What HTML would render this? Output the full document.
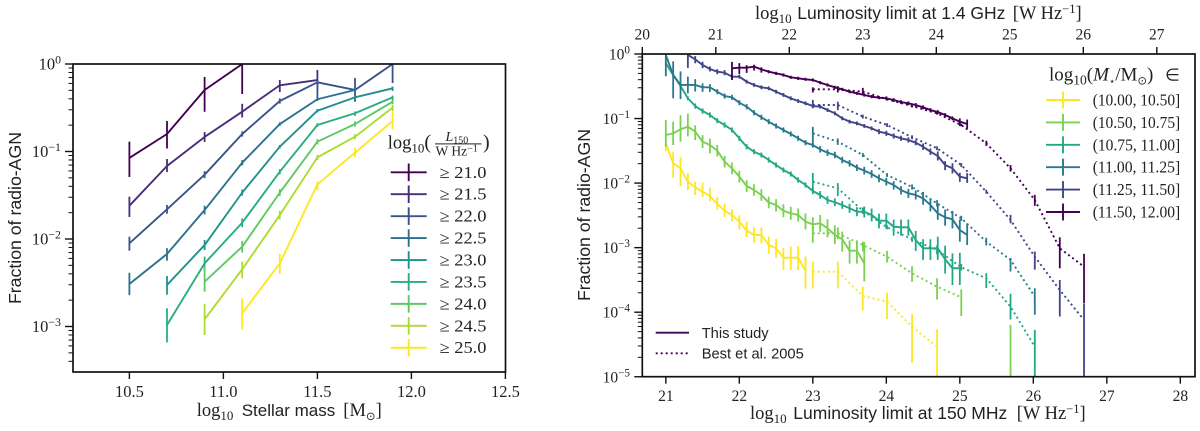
<!DOCTYPE html>
<html lang="en">
<head>
<meta charset="utf-8">
<title>Fraction of radio-AGN</title>
<style>
html,body{margin:0;padding:0;background:#fff}
svg{display:block}
text{fill:#222}
.serif{font-family:"Liberation Serif","DejaVu Serif",serif}
.sans{font-family:"Liberation Sans","DejaVu Sans",sans-serif}
.sym{font-family:"DejaVu Sans","Liberation Serif",sans-serif}
</style>
</head>
<body>
<svg id="figure" xmlns="http://www.w3.org/2000/svg" width="1200" height="431" viewBox="0 0 1200 431">
  <defs>
    <clipPath id="clip-left"><rect x="73" y="64" width="432.5" height="308"/></clipPath>
    <clipPath id="clip-right"><rect x="642.3" y="54" width="552.7" height="322.7"/></clipPath>
  </defs>
  <rect width="1200" height="431" fill="#fff"/>

  <g id="left-marks" clip-path="url(#clip-left)"></g>
  <g id="right-marks" clip-path="url(#clip-right)"></g>
  <g id="left-axes"></g>
  <g id="right-axes"></g>
  <g id="left-legend"></g>
  <g id="right-legend"></g>

  <text class="sans" font-size="17.7" text-anchor="middle" transform="translate(21 218) rotate(-90)">Fraction of radio-AGN</text>
  <text class="serif" font-size="18.5" y="416"><tspan x="196.7">log</tspan><tspan font-size="13" dy="4">10</tspan><tspan class="sans" x="241.7" dy="-4" font-size="17" font-family="Liberation Sans">Stellar mass</tspan><tspan x="343.3">[M</tspan><tspan class="sym" font-size="11.5" dy="4" font-family="DejaVu Sans">⊙</tspan><tspan dy="-4">]</tspan></text>

  <text class="serif" font-size="18.5" y="148.3"><tspan x="387.7">log</tspan><tspan font-size="13" dy="4">10</tspan><tspan dy="-4" font-size="20">(</tspan></text>
  <text class="serif" font-size="14" y="141" x="445.5"><tspan font-style="italic">L</tspan><tspan font-size="10" dy="2.5">150</tspan></text>
  <rect x="435" y="143.4" width="46.5" height="1" fill="#222"/>
  <text class="serif" font-size="13.5" y="155.5" x="435.5">W Hz<tspan font-size="10" dy="-4">−1</tspan></text>
  <text class="serif" font-size="20" x="483" y="148.3">)</text>

  <text class="sans" font-size="17.7" text-anchor="middle" transform="translate(590 215) rotate(-90)">Fraction of radio-AGN</text>
  <text class="serif" font-size="18.5" y="19"><tspan x="755">log</tspan><tspan font-size="13" dy="4">10</tspan><tspan font-family="Liberation Sans" font-size="17.5" x="797.3" dy="-4">Luminosity limit at 1.4 GHz</tspan><tspan x="1012.7">[W Hz</tspan><tspan font-size="12.5" dy="-6">−1</tspan><tspan dy="6">]</tspan></text>
  <text class="serif" font-size="18.5" y="419"><tspan x="750">log</tspan><tspan font-size="13" dy="4">10</tspan><tspan font-family="Liberation Sans" font-size="17.5" x="793.3" dy="-4">Luminosity limit at 150 MHz</tspan><tspan x="1016.7">[W Hz</tspan><tspan font-size="12.5" dy="-6">−1</tspan><tspan dy="6">]</tspan></text>

  <text class="serif" font-size="19" y="80.5"><tspan x="1049">log</tspan><tspan font-size="13.5" dy="4">10</tspan><tspan dy="-4">(</tspan><tspan font-style="italic">M</tspan><tspan font-family="DejaVu Sans" font-size="10" dy="4">⋆</tspan><tspan dy="-4">/M</tspan><tspan font-family="DejaVu Sans" font-size="11.5" dy="4">⊙</tspan><tspan dy="-4">)</tspan><tspan font-family="DejaVu Sans" font-size="17" x="1165">∈</tspan></text>

  <line x1="655.7" x2="689" y1="332.7" y2="332.7" stroke="#440154" stroke-width="1.9"/>
  <text class="sans" font-size="14.7" x="701.7" y="338">This study</text>
  <line x1="655.7" x2="689" y1="353.3" y2="353.3" stroke="#440154" stroke-width="1.9" stroke-dasharray="2 3"/>
  <text class="sans" font-size="14.7" x="701.7" y="358.5">Best et al. 2005</text>
</svg>

<script>
/* ---------- left panel data ---------- */
const massBins = [10.5, 10.7, 10.9, 11.1, 11.3, 11.5, 11.7, 11.9];
const leftColors = ['#440154', '#472d7b', '#3b528b', '#2c728e', '#21918c', '#28ae80', '#5ec962', '#addc30', '#fde725'];
const leftLabels = ['≥ 21.0', '≥ 21.5', '≥ 22.0', '≥ 22.5', '≥ 23.0', '≥ 23.5', '≥ 24.0', '≥ 24.5', '≥ 25.0'];
const leftLogFraction = [
  [-1.074, -0.80, -0.297, 0, null, null, null, null],
  [-1.619, -1.166, -0.834, -0.545, -0.243, -0.183, null, null],
  [-2.049, -1.661, -1.265, -0.8, -0.423, -0.209, -0.297, 0],
  [-2.514, -2.171, -1.669, -1.128, -0.686, -0.403, -0.297, null],
  [null, -2.526, -2.069, -1.47, -0.945, -0.534, -0.381, -0.278],
  [null, -2.983, -2.278, -1.814, -1.231, -0.697, -0.563, -0.381],
  [null, null, -2.488, -2.088, -1.47, -0.888, -0.686, -0.431],
  [null, null, -2.918, -2.347, -1.726, -1.067, -0.831, -0.499],
  [null, null, null, -2.849, -2.278, -1.375, -1.014, -0.651]
];
const leftErrUp = [
  [0.187, 0.149, 0.149, 0, null, null, null, null],
  [0.103, 0.08, 0.057, 0.09, 0.06, 0.114, null, null],
  [0.075, 0.05, 0.04, 0.03, 0.03, 0.03, 0.137, 0],
  [0.128, 0.066, 0.05, 0.03, 0.02, 0.02, 0.04, null],
  [null, 0.103, 0.057, 0.035, 0.02, 0.02, 0.02, 0.02],
  [null, 0.19, 0.076, 0.05, 0.03, 0.02, 0.02, 0.02],
  [null, null, 0.179, 0.068, 0.04, 0.03, 0.03, 0.02],
  [null, null, 0.175, 0.088, 0.05, 0.03, 0.03, 0.03],
  [null, null, null, 0.171, 0.106, 0.03, 0.06, 0.106]
];
const leftErrDown = [
  [0.217, 0.166, 0.249, 0.343, null, null, null, null],
  [0.129, 0.069, 0.057, 0.066, 0.077, 0.11, null, null],
  [0.085, 0.05, 0.04, 0.03, 0.03, 0.2, 0.134, 0.217],
  [0.128, 0.077, 0.05, 0.03, 0.02, 0.02, 0.04, null],
  [null, 0.11, 0.057, 0.035, 0.02, 0.02, 0.02, 0.03],
  [null, 0.197, 0.096, 0.05, 0.03, 0.02, 0.03, 0.03],
  [null, null, 0.114, 0.068, 0.04, 0.03, 0.03, 0.03],
  [null, null, 0.18, 0.102, 0.05, 0.03, 0.03, 0.04],
  [null, null, null, 0.183, 0.122, 0.07, 0.05, 0.095]
];
const leftXTicks = [10.5, 11.0, 11.5, 12.0, 12.5];
const leftXTickLabels = ['10.5', '11.0', '11.5', '12.0', '12.5'];
const leftYTickExponents = [0, -1, -2, -3];

/* ---------- right panel data ---------- */
const lumBins = [21.0, 21.1, 21.2, 21.3, 21.4, 21.5, 21.6, 21.7, 21.8, 21.9, 22.0, 22.1, 22.2, 22.3, 22.4, 22.5, 22.6, 22.7, 22.8, 22.9, 23.0, 23.1, 23.2, 23.3, 23.4, 23.5, 23.6, 23.7, 23.8, 23.9, 24.0, 24.1, 24.2, 24.3, 24.4, 24.5, 24.6, 24.7, 24.8, 24.9, 25.0, 25.1];
const bestBins = [23.0, 23.34, 23.68, 24.01, 24.35, 24.69, 25.02, 25.36, 25.69, 26.02, 26.36, 26.69];
const rightColors = ['#fde725', '#7ad151', '#22a884', '#2a788e', '#414487', '#440154'];
const rightLabels = ['(10.00, 10.50]', '(10.50, 10.75]', '(10.75, 11.00]', '(11.00, 11.25]', '(11.25, 11.50]', '(11.50, 12.00]'];
const studyLogFraction = [
  [-1.383, -1.693, -1.771, -1.978, -2.065, -2.133, -2.20, -2.324, -2.428, -2.494, -2.598, -2.737, -2.804, -2.804, -2.959, -3.01, -3.156, -3.156, -3.156, -3.357],
  [-1.255, -1.229, -1.167, -1.126, -1.203, -1.358, -1.41, -1.498, -1.668, -1.771, -1.9, -2.045, -2.107, -2.184, -2.30, -2.339, -2.428, -2.468, -2.494, -2.598, -2.639, -2.623, -2.70, -2.804, -2.871, -3.047, -3.047, -3.243],
  [-0.144, -0.325, -0.496, -0.686, -0.806, -0.883, -0.945, -1.033, -1.1, -1.177, -1.306, -1.436, -1.514, -1.565, -1.642, -1.72, -1.797, -1.859, -1.952, -2.029, -2.122, -2.184, -2.262, -2.297, -2.339, -2.39, -2.443, -2.443, -2.494, -2.582, -2.582, -2.675, -2.685, -2.685, -2.881, -3.01, -3.01, -3.01, -3.18, -3.319, -3.319],
  [-0.015, -0.325, -0.48, -0.48, -0.48, -0.516, -0.516, -0.584, -0.651, -0.671, -0.754, -0.816, -0.909, -0.981, -1.048, -1.115, -1.177, -1.239, -1.306, -1.374, -1.41, -1.477, -1.529, -1.565, -1.642, -1.694, -1.761, -1.807, -1.859, -1.926, -1.978, -2.03, -2.107, -2.159, -2.184, -2.236, -2.339, -2.468, -2.53, -2.561, -2.727, -2.804],
  [null, null, null, -0.015, -0.083, -0.17, -0.232, -0.274, -0.289, -0.351, -0.351, -0.429, -0.48, -0.516, -0.532, -0.584, -0.635, -0.687, -0.728, -0.764, -0.806, -0.816, -0.868, -0.919, -0.997, -1.048, -1.074, -1.115, -1.152, -1.203, -1.229, -1.27, -1.306, -1.332, -1.374, -1.436, -1.513, -1.58, -1.72, -1.771, -1.9, -1.926],
  [null, null, null, null, null, null, null, null, null, -0.222, -0.212, -0.212, -0.196, -0.238, -0.274, -0.3, -0.325, -0.361, -0.377, -0.392, -0.403, -0.444, -0.48, -0.516, -0.547, -0.584, -0.609, -0.635, -0.661, -0.676, -0.687, -0.713, -0.744, -0.764, -0.79, -0.826, -0.868, -0.899, -0.945, -0.997, -1.048, -1.084]
];
const studyErrUp = [
  [0, 0.18, 0.18, 0.13, 0.09, 0.14, 0.13, 0.11, 0.11, 0.09, 0.10, 0.14, 0.12, 0.12, 0.13, 0.15, 0.15, 0.17, 0.18, 0.22],
  [0.23, 0.18, 0.22, 0.2, 0.1, 0.1, 0.1, 0.09, 0.09, 0.09, 0.09, 0.09, 0.09, 0.09, 0.09, 0.09, 0.1, 0.1, 0.1, 0.13, 0.11, 0.13, 0.14, 0.15, 0.12, 0.16, 0.16, 0.33],
  [0.02, 0.03, 0.03, 0.03, 0.04, 0.04, 0.04, 0.04, 0.04, 0.04, 0.04, 0.04, 0.04, 0.04, 0.04, 0.04, 0.04, 0.04, 0.04, 0.04, 0.05, 0.06, 0.06, 0.06, 0.06, 0.07, 0.07, 0.08, 0.1, 0.11, 0.11, 0.11, 0.12, 0.12, 0.14, 0.14, 0.14, 0.18, 0.21, 0.23, 0.24],
  [0.015, 0.21, 0.21, 0.13, 0.09, 0.06, 0.05, 0.04, 0.04, 0.04, 0.04, 0.04, 0.04, 0.04, 0.04, 0.04, 0.04, 0.04, 0.04, 0.04, 0.04, 0.05, 0.05, 0.05, 0.05, 0.05, 0.05, 0.06, 0.06, 0.06, 0.06, 0.06, 0.06, 0.07, 0.07, 0.1, 0.1, 0.155, 0.12, 0.13, 0.165, 0.18],
  [null, null, null, 0.015, 0.05, 0.05, 0.04, 0.04, 0.04, 0.04, 0.03, 0.03, 0.03, 0.03, 0.03, 0.03, 0.03, 0.03, 0.03, 0.03, 0.03, 0.03, 0.03, 0.03, 0.03, 0.03, 0.03, 0.03, 0.03, 0.04, 0.04, 0.04, 0.04, 0.04, 0.04, 0.05, 0.05, 0.07, 0.06, 0.08, 0.06, 0.08],
  [null, null, null, null, null, null, null, null, null, 0.1, 0.07, 0.04, 0.03, 0.03, 0.025, 0.025, 0.025, 0.025, 0.025, 0.025, 0.025, 0.025, 0.025, 0.025, 0.025, 0.025, 0.025, 0.025, 0.025, 0.025, 0.03, 0.03, 0.03, 0.03, 0.03, 0.03, 0.03, 0.03, 0.03, 0.03, 0.05, 0.07]
];
const studyErrDown = [
  [0.12, 0.23, 0.28, 0.13, 0.12, 0.08, 0.08, 0.09, 0.10, 0.10, 0.12, 0.10, 0.12, 0.13, 0.14, 0.15, 0.19, 0.19, 0.19, 0.28],
  [0.18, 0.18, 0.19, 0.15, 0.13, 0.1, 0.13, 0.09, 0.09, 0.09, 0.09, 0.09, 0.09, 0.09, 0.09, 0.1, 0.1, 0.1, 0.1, 0.12, 0.11, 0.13, 0.14, 0.14, 0.19, 0.2, 0.2, 0.28],
  [0.02, 0.03, 0.03, 0.03, 0.04, 0.04, 0.04, 0.04, 0.04, 0.04, 0.04, 0.04, 0.04, 0.04, 0.04, 0.04, 0.04, 0.04, 0.04, 0.04, 0.05, 0.06, 0.06, 0.06, 0.06, 0.07, 0.07, 0.09, 0.1, 0.12, 0.13, 0.14, 0.13, 0.13, 0.17, 0.18, 0.18, 0.18, 0.22, 0.26, 0.26],
  [0.33, 0.36, 0.22, 0.13, 0.1, 0.07, 0.07, 0.04, 0.04, 0.04, 0.04, 0.04, 0.04, 0.04, 0.04, 0.04, 0.04, 0.04, 0.04, 0.04, 0.04, 0.05, 0.05, 0.05, 0.05, 0.05, 0.05, 0.06, 0.06, 0.06, 0.06, 0.07, 0.07, 0.07, 0.07, 0.1, 0.1, 0.1, 0.13, 0.14, 0.18, 0.155],
  [null, null, null, 0.2, 0.06, 0.05, 0.04, 0.04, 0.04, 0.04, 0.03, 0.03, 0.03, 0.03, 0.03, 0.03, 0.03, 0.03, 0.03, 0.03, 0.03, 0.03, 0.03, 0.03, 0.03, 0.03, 0.03, 0.03, 0.03, 0.04, 0.04, 0.04, 0.04, 0.04, 0.04, 0.05, 0.05, 0.07, 0.08, 0.08, 0.08, 0.07],
  [null, null, null, null, null, null, null, null, null, 0.18, 0.1, 0.08, 0.06, 0.05, 0.025, 0.025, 0.025, 0.025, 0.025, 0.025, 0.025, 0.025, 0.025, 0.025, 0.025, 0.025, 0.025, 0.025, 0.025, 0.025, 0.03, 0.03, 0.03, 0.03, 0.03, 0.03, 0.03, 0.03, 0.03, 0.03, 0.07, 0.07]
];
const bestLogFraction = [
  [-3.372, -3.372, -3.749, -3.837, -4.224, -4.534, null, null, null, null, null, null],
  [-2.778, -2.778, -2.959, -3.14, -3.398, -3.605, -3.77, null, -4.534, null, null, null],
  [-1.978, -2.08, -2.428, -2.685, -2.871, -3.036, -3.304, -3.475, -3.914, -4.534, null, null],
  [-1.229, -1.358, -1.565, -1.875, -2.06, -2.314, -2.546, -2.907, -3.19, -3.759, null, null],
  [-0.79, -0.79, -0.97, -1.1, -1.29, -1.46, -1.72, -2.133, -2.572, -3.14, -3.656, -4.122],
  [-0.547, -0.547, -0.584, -0.70, -0.806, -0.919, -1.1, -1.384, -1.771, -2.262, -3.01, -3.295]
];
const bestErrUp = [
  [0.155, 0.155, 0.145, 0.14, 0.196, 0.27, null, null, null, null, null, null],
  [0.13, 0.09, 0.05, 0.09, 0.11, 0.13, 0.124, null, 0.336, null, null, null],
  [0.135, 0.08, 0.05, 0.03, 0.04, 0.07, 0.05, 0.08, 0.2, 0.26, null, null],
  [0.1, 0.05, 0.03, 0.03, 0.04, 0.05, 0.04, 0.06, 0.03, 0.13, null, null],
  [0.08, 0.05, 0.03, 0.03, 0.03, 0.03, 0.03, 0.03, 0.08, 0.08, 0.155, 0.25],
  [0.03, 0.05, 0.06, 0.02, 0.02, 0.02, 0.02, 0.04, 0.05, 0.08, 0.17, 0.2]
];
const bestErrDown = [
  [0.26, 0.26, 0.227, 0.27, 0.56, 0.47, null, null, null, null, null, null],
  [0.145, 0.09, 0.1, 0.09, 0.13, 0.2, 0.29, null, 0.466, null, null, null],
  [0.15, 0.12, 0.05, 0.03, 0.04, 0.07, 0.05, 0.15, 0.2, 0.47, null, null],
  [0.18, 0.05, 0.03, 0.03, 0.04, 0.05, 0.04, 0.06, 0.18, 0.28, null, null],
  [0.05, 0.08, 0.03, 0.03, 0.03, 0.03, 0.03, 0.03, 0.05, 0.2, 0.41, 0.88],
  [0.05, 0.05, 0.04, 0.02, 0.02, 0.02, 0.02, 0.04, 0.05, 0.09, 0.31, 0.57]
];
const bottomTicks = [21, 22, 23, 24, 25, 26, 27, 28];
const bottomTickLabels = ['21', '22', '23', '24', '25', '26', '27', '28'];
const topTicks = [20, 21, 22, 23, 24, 25, 26, 27];
const topTickLabels = ['20', '21', '22', '23', '24', '25', '26', '27'];
const rightYTickExponents = [0, -1, -2, -3, -4, -5];
const minorMultipliers = [2, 3, 4, 5, 6, 7, 8, 9];

/* ---------- scales ---------- */
const NS = 'http://www.w3.org/2000/svg';
const leftX = v => 73 + (v - 10.2) * 188;
const leftY = lg => 64 - lg * 87.5;
const rightX = v => 642.3 + (v - 20.68) * 73.5;
const topX = v => 642.3 + (v - 20) * 73.5;
const rightY = lg => 54 - lg * 64.55;

function make(parent, tag, attrs, text) {
  const n = document.createElementNS(NS, tag);
  for (const k in attrs) n.setAttribute(k, attrs[k]);
  if (text !== undefined) n.textContent = text;
  parent.appendChild(n);
  return n;
}

function drawSeries(parent, xs, vals, ups, downs, color, sx, sy, dotted, name) {
  const g = make(parent, 'g', {});
  
  
  let d = '';
  let pen = false;
  vals.forEach((v, i) => {
    if (v === null || v === undefined) { pen = false; return; }
    d += (pen ? 'L' : 'M') + sx(xs[i]).toFixed(2) + ' ' + sy(v).toFixed(2);
    pen = true;
  });
  const lineAttrs = { d: d, fill: 'none', stroke: color, 'stroke-width': 1.9, 'stroke-linejoin': 'round' };
  if (dotted) lineAttrs['stroke-dasharray'] = '2 3';
  const path = make(g, 'path', lineAttrs);
  
  
  vals.forEach((v, i) => {
    if (v === null || v === undefined) return;
    const bar = make(g, 'line', {
      x1: sx(xs[i]), x2: sx(xs[i]),
      y1: sy(v + ups[i]), y2: sy(v - downs[i]),
      stroke: color, 'stroke-width': 1.8
    });
    
    
  });
}

function powerLabel(parent, x, y, exponent, size, name) {
  const t = make(parent, 'text', { x: x, y: y, 'text-anchor': 'end', 'font-size': size, class: 'serif' });
  
  
  const base = make(t, 'tspan', {}, '10');
  const sup = make(t, 'tspan', { 'font-size': size * 0.72, dy: -6 }, (exponent < 0 ? '−' : '') + Math.abs(exponent));
  return [base, sup];
}

function tickLine(parent, x1, y1, x2, y2, w, name) {
  const t = make(parent, 'line', { x1: x1, y1: y1, x2: x2, y2: y2, stroke: '#111', 'stroke-width': w });
  
  
}

function frame(parent, x, y, w, h, name) {
  const r = make(parent, 'rect', { x: x, y: y, width: w, height: h, fill: 'none', stroke: '#111', 'stroke-width': 1.7 });
  
  
}

function xTickLabel(parent, x, y, label, size, name) {
  const t = make(parent, 'text', { x: x, y: y, 'text-anchor': 'middle', 'font-size': size, class: 'serif' }, label);
  
  
}

function yAxisTicks(parent, exps, bottomLog, spineX, sy, labelX, size, prefix) {
  exps.forEach(e => {
    tickLine(parent, spineX - 8, sy(e), spineX, sy(e), 1.4, prefix + '-y-major-tick');
    powerLabel(parent, labelX, sy(e) + 5.5, e, size, prefix + '-y-tick-label');
    minorMultipliers.forEach(m => {
      const lg = e + Math.log10(m);
      if (lg < 0 && lg >= bottomLog) tickLine(parent, spineX - 4.5, sy(lg), spineX, sy(lg), 1, prefix + '-y-minor-tick');
    });
  });
  minorMultipliers.forEach(m => {
    const lg = exps[exps.length - 1] - 1 + Math.log10(m);
    if (lg >= bottomLog) tickLine(parent, spineX - 4.5, sy(lg), spineX, sy(lg), 1, prefix + '-y-minor-tick');
  });
}

function legendRow(parent, x1, x2, xm, y, half, color, label, textX, textLen, name) {
  const h = make(parent, 'line', { x1: x1, x2: x2, y1: y, y2: y, stroke: color, 'stroke-width': 1.9 });
  
  
  const v = make(parent, 'line', { x1: xm, x2: xm, y1: y - half, y2: y + half, stroke: color, 'stroke-width': 1.9 });
  
  
  const t = make(parent, 'text', { x: textX, y: y + 5.5, 'font-size': 16.5, class: 'serif', textLength: textLen, lengthAdjust: 'spacingAndGlyphs' }, label);
  
  
}

/* ---------- draw left ---------- */
const leftMarks = document.getElementById('left-marks');
leftLogFraction.forEach((vals, s) => {
  drawSeries(leftMarks, massBins, vals, leftErrUp[s], leftErrDown[s], leftColors[s], leftX, leftY, false, 'left-series-' + leftLabels[s].slice(2).replace('.', '-'));
});
const leftAxes = document.getElementById('left-axes');
frame(leftAxes, 73, 64, 432.5, 308, 'left-axes-frame');
leftXTicks.forEach((v, i) => {
  tickLine(leftAxes, leftX(v), 372, leftX(v), 379, 1.4, 'left-x-tick');
  xTickLabel(leftAxes, leftX(v), 397, leftXTickLabels[i], 16.5, 'left-x-tick-label');
});
yAxisTicks(leftAxes, leftYTickExponents, -3.52, 73, leftY, 61, 16.5, 'left');

const leftLegend = document.getElementById('left-legend');
leftLabels.forEach((label, i) => {
  legendRow(leftLegend, 390.7, 426.7, 408.7, 172.3 + i * 21.93, 8.8, leftColors[i], label, 439.5, 47, 'left-legend-entry-' + i);
});

/* ---------- draw right ---------- */
const rightMarks = document.getElementById('right-marks');
bestLogFraction.forEach((vals, s) => {
  drawSeries(rightMarks, bestBins, vals, bestErrUp[s], bestErrDown[s], rightColors[s], rightX, rightY, true, 'best-2005-series-' + s);
});
studyLogFraction.forEach((vals, s) => {
  drawSeries(rightMarks, lumBins, vals, studyErrUp[s], studyErrDown[s], rightColors[s], rightX, rightY, false, 'this-study-series-' + s);
});
const rightAxes = document.getElementById('right-axes');
frame(rightAxes, 642.3, 54, 552.7, 322.7, 'right-axes-frame');
bottomTicks.forEach((v, i) => {
  tickLine(rightAxes, rightX(v), 376.7, rightX(v), 383.7, 1.4, 'right-bottom-tick');
  xTickLabel(rightAxes, rightX(v), 401, bottomTickLabels[i], 15.5, 'right-bottom-tick-label');
});
topTicks.forEach((v, i) => {
  tickLine(rightAxes, topX(v), 54, topX(v), 47, 1.4, 'right-top-tick');
  xTickLabel(rightAxes, topX(v), 39.5, topTickLabels[i], 15.5, 'right-top-tick-label');
});
yAxisTicks(rightAxes, rightYTickExponents, -5, 642.3, rightY, 630, 15.5, 'right');

const rightLegend = document.getElementById('right-legend');
rightLabels.forEach((label, i) => {
  legendRow(rightLegend, 1046, 1080, 1063, 100 + i * 22.4, 8.5, rightColors[i], label, 1092.7, 87.5, 'right-legend-entry-' + i);
});
</script>
</body>
</html>
